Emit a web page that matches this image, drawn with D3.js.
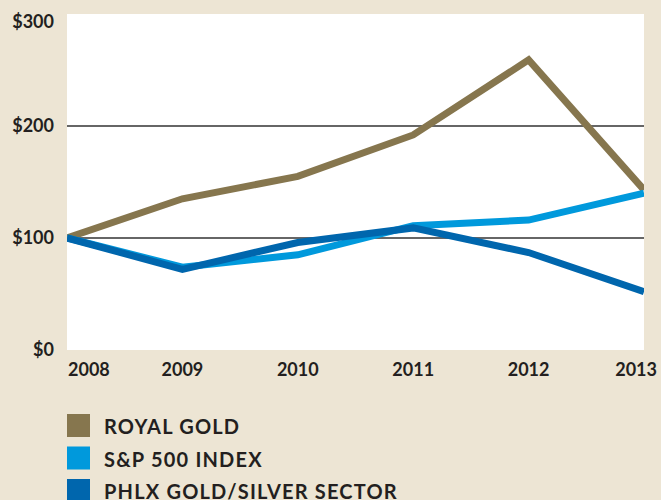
<!DOCTYPE html>
<html><head><meta charset="utf-8">
<script src="https://cdn.jsdelivr.net/npm/d3@7"></script>
<style>
html,body{margin:0;padding:0;background:#ede5d4;}
svg{display:block;}
text{font-family:Lato,"Open Sans",sans-serif;font-weight:700;fill:#231f20;}
</style></head><body>
<script>
const years = [2008, 2009, 2010, 2011, 2012, 2013];
const royalGold = [100, 135, 155, 192, 259, 143];
const sp500 = [100, 74, 85, 111, 116, 140];
const phlx = [100, 72, 96, 109, 87, 52];
const yTicks = [0, 100, 200, 300];
const gridValues = [100, 200];
const seriesNames = ["ROYAL GOLD", "S&P 500 INDEX", "PHLX GOLD/SILVER SECTOR"];
const seriesColors = ["#86764e", "#0099dc", "#0066ad"];

const W = 661, H = 500;
const m = {left: 67, right: 17, top: 14, bottom: 150};
const svg = d3.select("body").append("svg").attr("width", W).attr("height", H);
svg.append("rect").attr("width", W).attr("height", H).attr("fill", "#ede5d4");

const x = d3.scaleLinear().domain([2008, 2013]).range([m.left, W - m.right]);
const y = d3.scaleLinear().domain([0, 300]).range([H - m.bottom, m.top]);

svg.append("defs").append("clipPath").attr("id", "clip")
  .append("rect").attr("x", x(2008)).attr("y", y(300))
  .attr("width", x(2013) - x(2008)).attr("height", y(0) - y(300));

svg.append("rect").attr("x", x(2008)).attr("y", y(300))
  .attr("width", x(2013) - x(2008)).attr("height", y(0) - y(300)).attr("fill", "#fff");

svg.append("g").selectAll("line").data(gridValues).join("line")
  .attr("x1", x(2008)).attr("x2", x(2013))
  .attr("y1", d => y(d)).attr("y2", d => y(d))
  .attr("stroke", "#333").attr("stroke-width", 1.5);

const line = d3.line().x((d, i) => x(years[i])).y(d => y(d));
const g = svg.append("g").attr("clip-path", "url(#clip)");
[royalGold, sp500, phlx].forEach((s, i) => {
  g.append("path").attr("d", line(s)).attr("fill", "none")
    .attr("stroke", seriesColors[i]).attr("stroke-width", 7)
    .attr("stroke-linejoin", "miter").attr("stroke-linecap", "butt");
});

// Y labels
svg.append("g").selectAll("text").data(yTicks).join("text")
  .attr("x", 54).attr("y", d => d === 300 ? y(d) + 8 : y(d))
  .attr("dy", "0.36em").attr("text-anchor", "end")
  .style("font-size", "18px").text(d => "$" + d);

// X labels
svg.append("g").selectAll("text").data(years).join("text")
  .attr("x", (d, i) => i === 0 ? x(d) + 1 : (i === years.length - 1 ? x(d) + 13 : x(d)))
  .attr("y", 376)
  .attr("text-anchor", (d, i) => i === 0 ? "start" : (i === years.length - 1 ? "end" : "middle"))
  .style("font-size", "18px").text(d => d);

// Legend
const lg = svg.append("g").selectAll("g").data(seriesNames).join("g")
  .attr("transform", (d, i) => `translate(67,${414 + i * 32.5})`);
lg.append("rect").attr("width", 23).attr("height", 23).attr("fill", (d, i) => seriesColors[i]);
lg.append("text").attr("x", 37).attr("y", 20).style("font-size", "20px")
  .style("letter-spacing", "1.2px").text(d => d);
</script>
</body></html>
